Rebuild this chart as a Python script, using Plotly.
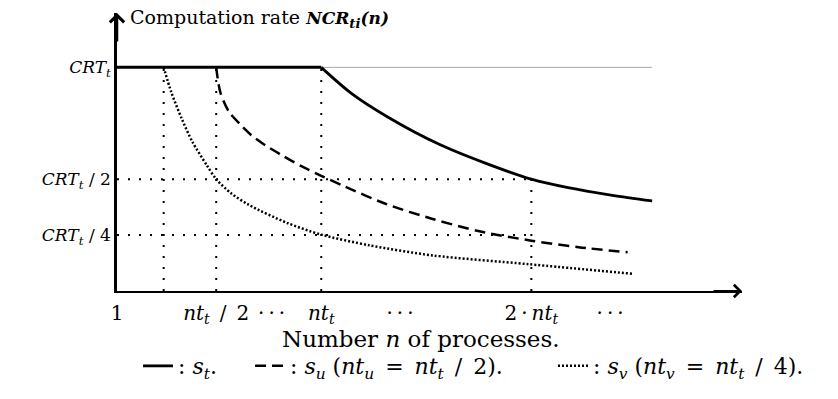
import plotly.graph_objects as go

# Computation rate (in units of CRT_t) against the number n of processes, nt_t = 36
n_st = [1, 36, 41.1, 47.6, 56.3, 64.0, 72, 78.3, 85.9, 92.7]
r_st = [1, 1, 0.885, 0.775, 0.655, 0.573, 0.5, 0.462, 0.428, 0.403]

n_su = [18, 18.7, 20.2, 22.0, 24.1, 26.5, 29.2, 32.6, 36, 39.9, 47.0, 55.1, 63.3, 72, 80.1, 88.5]
r_su = [1, 0.889, 0.801, 0.748, 0.695, 0.650, 0.608, 0.558, 0.515, 0.469, 0.390, 0.322, 0.266, 0.225, 0.196, 0.173]

n_sv = [9, 10.3, 12.1, 13.9, 16.4, 18, 20.5, 23.6, 30.1, 36, 44.3, 55.1, 71.5, 89.3]
r_sv = [1, 0.889, 0.770, 0.668, 0.562, 0.5, 0.438, 0.385, 0.305, 0.252, 0.204, 0.159, 0.120, 0.077]

# guide lines: process counts nt_t/4, nt_t/2, nt_t, 2*nt_t and rate levels CRT_t/2, CRT_t/4
guide_n = [9, 18, 36, 72]
guide_top = [1, 1, 1, 0.5]
guide_levels = [0.5, 0.25]
crt_level = 1
crt_line_end = 92.7

SP = "\u2002"   # en space
TH = "\u2009"   # thin space
x_tickvals = [1, 18, 27.5, 36, 49.5, 72, 85.5]
x_ticktext = ["1", f"<i>nt</i><sub><i>t</i></sub>{SP}/{SP}2", f"·{TH}·{TH}·",
              "<i>nt</i><sub><i>t</i></sub>", f"·{TH}·{TH}·",
              f"2{TH}·{TH}<i>nt</i><sub><i>t</i></sub>", f"·{TH}·{TH}·"]
y_tickvals = [1, 0.5, 0.25]
y_ticktext = ["<i>CRT</i><sub><i>t</i></sub>", "<i>CRT</i><sub><i>t</i></sub> / 2",
              "<i>CRT</i><sub><i>t</i></sub> / 4"]

FONT = "DejaVu Serif"
guide_dash = "2px,9px"

fig = go.Figure()

# thin grey continuation of the CRT_t level
fig.add_trace(go.Scatter(x=[n_st[1], crt_line_end], y=[crt_level, crt_level], mode="lines",
                         line=dict(color="#a8a8a8", width=1), showlegend=False, hoverinfo="skip"))

for xv, top in zip(guide_n, guide_top):
    fig.add_trace(go.Scatter(x=[xv, xv], y=[0, top], mode="lines",
                             line=dict(color="black", width=2, dash=guide_dash),
                             showlegend=False, hoverinfo="skip"))
for lv in guide_levels:
    fig.add_trace(go.Scatter(x=[1, guide_n[-1]], y=[lv, lv], mode="lines",
                             line=dict(color="black", width=2, dash=guide_dash),
                             showlegend=False, hoverinfo="skip"))

# s_t: flat part up to nt_t, then the decreasing part (two pieces so the corner stays sharp)
fig.add_trace(go.Scatter(x=n_st[:2], y=r_st[:2], mode="lines", line=dict(color="black", width=3),
                         legendgroup="st", showlegend=False, hoverinfo="skip"))
fig.add_trace(go.Scatter(x=n_st[1:], y=r_st[1:], mode="lines",
                         line=dict(color="black", width=2.8, shape="spline", smoothing=0.8),
                         legendgroup="st", legendwidth=67,
                         name=": <i>s</i><sub><i>t</i></sub>."))
fig.add_trace(go.Scatter(x=n_su, y=r_su, mode="lines",
                         line=dict(color="black", width=2.5, dash="11px,6px", shape="spline",
                                   smoothing=0.8),
                         legendwidth=258,
                         name=f": <i>s</i><sub><i>u</i></sub> (<i>nt</i><sub><i>u</i></sub>{SP}={SP}"
                              f"<i>nt</i><sub><i>t</i></sub>{SP}/{SP}2)."))
fig.add_trace(go.Scatter(x=n_sv, y=r_sv, mode="lines",
                         line=dict(color="black", width=2.5, dash="2px,2px", shape="spline",
                                   smoothing=0.8),
                         legendwidth=225,
                         name=f": <i>s</i><sub><i>v</i></sub> (<i>nt</i><sub><i>v</i></sub>{SP}={SP}"
                              f"<i>nt</i><sub><i>t</i></sub>{SP}/{SP}4)."))

fig.update_xaxes(range=[1, 108.1], showgrid=False, zeroline=False, showline=True,
                 linecolor="black", linewidth=2, tickvals=x_tickvals, ticktext=x_ticktext,
                 ticks="", tickangle=0, ticklabelstandoff=3,
                 tickfont=dict(family=FONT, size=20, color="black"))
fig.update_yaxes(range=[0, 1.243], showgrid=False, zeroline=False, showline=True,
                 linecolor="black", linewidth=2.5, tickvals=y_tickvals, ticktext=y_ticktext,
                 ticks="", tickfont=dict(family=FONT, size=17, color="black"))

fig.update_layout(
    width=838, height=399,
    margin=dict(l=117, r=96, t=13, b=105),
    paper_bgcolor="white", plot_bgcolor="white",
    font=dict(family=FONT, color="black"),
    title=dict(text="Computation rate <b><i><span style='font-size:17px'>NCR</span></i></b>"
                    "<sub><b><i>ti</i></b></sub><b><i><span style='font-size:17px'>(n)</span></i></b>",
               x=130 / 838, xref="container", xanchor="left",
               y=1 - 17 / 399, yref="container", yanchor="middle",
               font=dict(family=FONT, size=19, color="black")),
    legend=dict(orientation="h", x=(823 - 117) / 625, xanchor="right", y=-0.27, yanchor="middle",
                font=dict(family=FONT, size=22, color="black"), bgcolor="rgba(0,0,0,0)"),
    annotations=[
        dict(text="Number <i>n</i> of processes.", x=(421 - 117) / 625, y=-0.174,
             xref="paper", yref="paper", showarrow=False, xanchor="center", yanchor="middle",
             font=dict(family=FONT, size=23, color="black")),
        dict(x=0, y=1, xref="paper", yref="paper", ax=0, ay=30, showarrow=True,
             arrowhead=4, arrowsize=1.1, arrowwidth=2.5, arrowcolor="black", text=""),
        dict(x=1, y=0, xref="paper", yref="paper", ax=-30, ay=0, showarrow=True,
             arrowhead=4, arrowsize=1.2, arrowwidth=2, arrowcolor="black", text=""),
    ],
)

fig.write_html("out.html")
